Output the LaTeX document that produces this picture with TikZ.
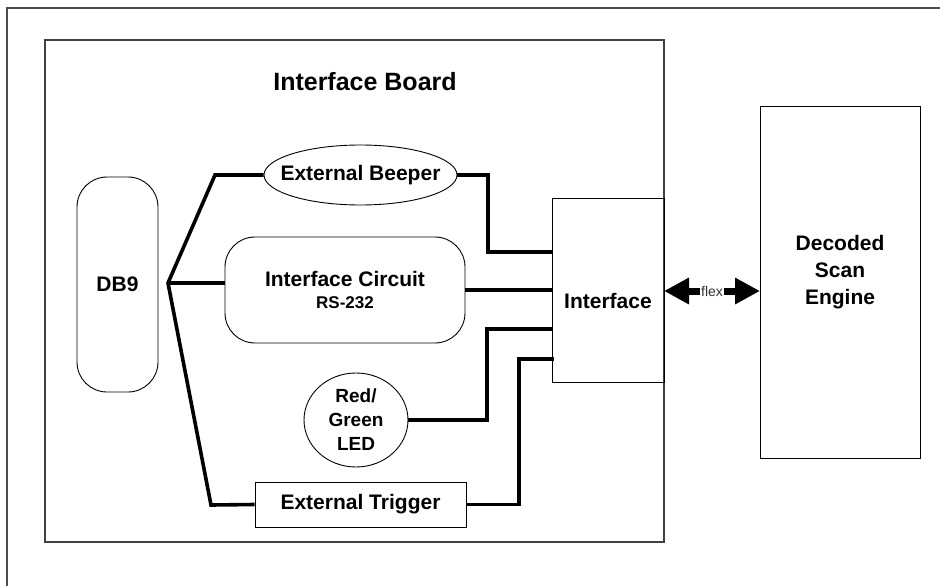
\documentclass[tikz,border=0pt]{standalone}
\usepackage{fontspec}
\setmainfont{Liberation Sans}
\usetikzlibrary{shapes.geometric,arrows.meta,calc}
\begin{document}
\begin{tikzpicture}[x=1pt,y=-1pt,
  frameline/.style={draw=black!70, line width=1.5pt},
  box/.style={draw=black, line width=0.9pt, inner sep=0pt, align=center,
              font=\bfseries\fontsize{21}{25}\selectfont},
  lbl/.style={inner sep=0pt, align=center, font=\bfseries\fontsize{21}{27}\selectfont},
  wire/.style={line width=3.6pt, line join=miter},
  flexarrow/.style={line width=7pt,
     {Triangle[length=25pt,width=25pt]}-{Triangle[length=25pt,width=25pt]}}]
\useasboundingbox (0,0) rectangle (940,586);
% outer frame (top and left edges)
\coordinate (fbl) at (7,586);
\coordinate (ftl) at (7,8);
\coordinate (ftr) at (940,8);
\draw[frameline] (fbl) -- (ftl) -- (ftr);
% board
\node[draw=black!75, line width=1.3pt, minimum width=619pt, minimum height=502pt, inner sep=0pt] (board) at (354.5,291) {};
\node[lbl, font=\bfseries\fontsize{25}{30}\selectfont] (title) at (365,82) {Interface Board};
% DB9
\node[box, rounded corners=30pt, minimum width=81pt, minimum height=215pt] (db9) at (117.5,284.5) {DB9};
% External Beeper
\node[box, ellipse, inner xsep=-14pt, minimum width=193pt, minimum height=60pt] (beeper) at (360.5,175) {External Beeper};
% Interface Circuit
\node[box, rounded corners=30pt, minimum width=240pt, minimum height=106pt,
      font=\bfseries\fontsize{21}{22}\selectfont] (circuit) at (345,290)
      {Interface Circuit\\{\fontsize{17}{22}\selectfont RS-232}};
% LED
\node[box, ellipse, minimum width=104pt, minimum height=94pt,
      font=\bfseries\fontsize{19}{24}\selectfont] (led) at (356,420) {Red/\\Green\\LED};
% External Trigger
\node[box, minimum width=211pt, minimum height=45pt] (trigger) at (360.5,504.5) {External Trigger};
% Interface box
\node[box, minimum width=112pt, minimum height=184pt] (iface) at (608,290) {};
\node[lbl] (iftxt) at (608,301) {Interface};
% Decoded Scan Engine
\node[box, minimum width=160pt, minimum height=352pt] (engine) at (840,282) {};
\node[lbl] (engtxt) at (840,272) {Decoded\\Scan\\Engine};
% wires
\coordinate (J) at (168,283);
\coordinate (jt) at (215,175);
\coordinate (jb) at (211,505);
\draw[wire] (beeper.west) -- (jt) -- (J) -- (jb) -- (trigger.west);
\draw[wire] (J) -- (J -| circuit.west);
\coordinate (b1) at (488,175);
\coordinate (b2) at (552,252);
\draw[wire] (beeper.east) -- (b1) |- (b2);
\draw[wire] (circuit.east) -- (circuit.east -| iface.west);
\coordinate (l1) at (487,420);
\coordinate (l2) at (552,329);
\draw[wire] (led.east) -- (l1) |- (l2);
\coordinate (t1) at (519,504.5);
\coordinate (t2) at (554,359);
\draw[wire] (trigger.east) -- (t1) |- (t2);
% flex arrow
\coordinate (fa) at (664,291);
\coordinate (fb) at (760,291);
\draw[flexarrow] (fa) -- (fb) node[midway, fill=white, inner xsep=1.5pt, inner ysep=1pt, text=black!80,
   font=\fontsize{14}{16}\selectfont] (flex) {flex};
\end{tikzpicture}
\end{document}
